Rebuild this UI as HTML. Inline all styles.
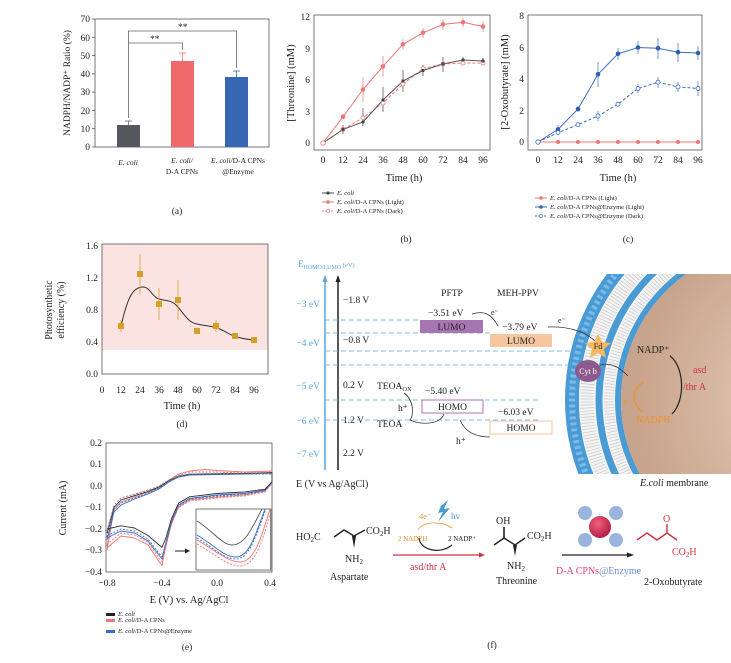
<!DOCTYPE html>
<html><head><meta charset="utf-8"><style>
html,body{margin:0;padding:0;background:#fff}
svg{display:block}
text{font-family:"Liberation Serif",serif;fill:#222}
.t{font-size:9.5px}
.s{font-size:6px;font-style:italic}
</style></head><body>
<svg width="731" height="663" viewBox="0 0 731 663" xmlns="http://www.w3.org/2000/svg">
<!-- Panel a -->
<g>
<rect x="95" y="19" width="174" height="128" fill="none" stroke="#555" stroke-width="0.8"/>
<g stroke="#555" stroke-width="0.8">
<line x1="92" y1="147" x2="95" y2="147"/><line x1="92" y1="128.7" x2="95" y2="128.7"/><line x1="92" y1="110.4" x2="95" y2="110.4"/><line x1="92" y1="92.1" x2="95" y2="92.1"/><line x1="92" y1="73.9" x2="95" y2="73.9"/><line x1="92" y1="55.6" x2="95" y2="55.6"/><line x1="92" y1="37.3" x2="95" y2="37.3"/><line x1="92" y1="19" x2="95" y2="19"/>
</g>
<g class="t" text-anchor="end">
<text x="90" y="150">0</text><text x="90" y="132">10</text><text x="90" y="114">20</text><text x="90" y="95">30</text><text x="90" y="77">40</text><text x="90" y="59">50</text><text x="90" y="41">60</text><text x="90" y="22">70</text>
</g>
<text class="t" transform="translate(70,83) rotate(-90)" text-anchor="middle" font-size="10">NADPH/NADP⁺ Ratio (%)</text>
<rect x="117" y="125" width="23" height="22" fill="#55575e"/>
<rect x="171" y="61" width="23" height="86" fill="#ef6b6b"/>
<rect x="225" y="77" width="23" height="70" fill="#3667b5"/>
<g stroke="#666" stroke-width="0.8"><line x1="128.5" y1="125" x2="128.5" y2="121"/><line x1="125" y1="121" x2="132" y2="121"/></g>
<g stroke="#ef6b6b" stroke-width="0.8"><line x1="182.5" y1="61" x2="182.5" y2="53"/><line x1="179" y1="53" x2="186" y2="53"/></g>
<g stroke="#3667b5" stroke-width="0.8"><line x1="236.5" y1="77" x2="236.5" y2="71"/><line x1="233" y1="71" x2="240" y2="71"/></g>
<g stroke="#666" stroke-width="0.8" fill="none">
<polyline points="128.5,118 128.5,43 182.5,43 182.5,50"/>
<polyline points="128.5,43 128.5,31 236.5,31 236.5,68"/>
</g>
<text class="t" x="150" y="42" font-size="9">**</text>
<text class="t" x="178" y="30" font-size="9">**</text>
<g font-size="7.5" text-anchor="middle">
<text x="128" y="165" font-style="italic">E. coli</text>
<text x="182" y="163" font-style="italic">E. coli/</text><text x="182" y="174">D-A CPNs</text>
<text x="238" y="163"><tspan font-style="italic">E. coli</tspan>/D-A CPNs</text><text x="238" y="174">@Enzyme</text>
</g>
<text class="t" x="177" y="214" text-anchor="middle">(a)</text>
</g>

<!-- Panel b -->
<g>
<rect x="314" y="15" width="176" height="135" fill="none" stroke="#555" stroke-width="0.8"/>
<g class="t" text-anchor="end"><text x="310" y="146">0</text><text x="310" y="115">3</text><text x="310" y="83">6</text><text x="310" y="52">9</text><text x="310" y="20">12</text></g>
<g class="t" text-anchor="middle"><text x="323" y="163">0</text><text x="343" y="163">12</text><text x="363" y="163">24</text><text x="383" y="163">36</text><text x="403" y="163">48</text><text x="423" y="163">60</text><text x="443" y="163">72</text><text x="463" y="163">84</text><text x="483" y="163">96</text></g>
<text x="404" y="181" text-anchor="middle" font-size="10.5">Time (h)</text>
<text transform="translate(294,83) rotate(-90)" text-anchor="middle" font-size="10.5">[Threonine] (mM)</text>
<polyline fill="none" stroke="#f07575" stroke-width="1" points="323,143 343,116.8 363,89.5 383,66.4 403,44.3 423,32.8 443,24.4 463,22.3 483,26.5"/>
<polyline fill="none" stroke="#f07575" stroke-width="1" stroke-dasharray="3,2" points="323,143 343,129.4 363,117.8 383,103 403,84 423,68.5 443,64 463,63 483,63"/>
<polyline fill="none" stroke="#555" stroke-width="1" points="323,143 343,129.4 363,122 383,100 403,81 423,70.5 443,64 463,60 483,61"/>
<g stroke="#f07575" stroke-width="0.7"><line x1="343" y1="114" x2="343" y2="119"/><line x1="363" y1="77" x2="363" y2="102"/><line x1="383" y1="56" x2="383" y2="77"/><line x1="403" y1="39" x2="403" y2="50"/><line x1="423" y1="28" x2="423" y2="38"/><line x1="443" y1="19" x2="443" y2="30"/><line x1="463" y1="18" x2="463" y2="27"/><line x1="483" y1="21" x2="483" y2="32"/></g>
<g stroke="#444" stroke-width="0.7"><line x1="343" y1="125" x2="343" y2="134"/><line x1="363" y1="108" x2="363" y2="126"/><line x1="383" y1="87" x2="383" y2="112"/><line x1="403" y1="70" x2="403" y2="92"/><line x1="423" y1="65" x2="423" y2="76"/><line x1="443" y1="57" x2="443" y2="72"/><line x1="463" y1="57" x2="463" y2="63"/><line x1="483" y1="58" x2="483" y2="65"/></g>
<g fill="#f07575"><circle cx="343" cy="116.8" r="2.3"/><circle cx="363" cy="89.5" r="2.3"/><circle cx="383" cy="66.4" r="2.3"/><circle cx="403" cy="44.3" r="2.3"/><circle cx="423" cy="32.8" r="2.3"/><circle cx="443" cy="24.4" r="2.3"/><circle cx="463" cy="22.3" r="2.3"/><circle cx="483" cy="26.5" r="2.3"/></g>
<g fill="#fff" stroke="#f07575" stroke-width="0.8"><circle cx="323" cy="143" r="2.2"/><circle cx="343" cy="129.4" r="2"/><circle cx="363" cy="117.8" r="2"/><circle cx="383" cy="103" r="2"/><circle cx="403" cy="84" r="2"/><circle cx="423" cy="68.5" r="2"/><circle cx="443" cy="64" r="2"/><circle cx="463" cy="63" r="2"/><circle cx="483" cy="63" r="2"/></g>
<g fill="#444"><circle cx="343" cy="129.4" r="1.6"/><circle cx="363" cy="122" r="1.6"/><circle cx="383" cy="100" r="1.6"/><circle cx="403" cy="81" r="1.6"/><circle cx="423" cy="70.5" r="1.6"/><circle cx="443" cy="64" r="1.6"/><circle cx="463" cy="60" r="1.6"/><circle cx="483" cy="61" r="1.6"/></g>
<g font-size="6.5"><line x1="322" y1="193" x2="334" y2="193" stroke="#444"/><circle cx="328" cy="193" r="1.6" fill="#444"/><text x="337" y="195" font-style="italic">E. coli</text>
<line x1="322" y1="202" x2="334" y2="202" stroke="#f07575"/><circle cx="328" cy="202" r="1.8" fill="#f07575"/><text x="337" y="204"><tspan font-style="italic">E. coli</tspan>/D-A CPNs (Light)</text>
<line x1="322" y1="211" x2="334" y2="211" stroke="#f07575" stroke-dasharray="2,1"/><circle cx="328" cy="211" r="1.8" fill="#fff" stroke="#f07575" stroke-width="0.7"/><text x="337" y="213"><tspan font-style="italic">E. coli</tspan>/D-A CPNs (Dark)</text></g>
<text class="t" x="406" y="242" text-anchor="middle">(b)</text>
</g>

<!-- Panel c -->
<g>
<rect x="528" y="15" width="174" height="135" fill="none" stroke="#555" stroke-width="0.8"/>
<g class="t" text-anchor="end"><text x="524" y="145">0</text><text x="524" y="114">2</text><text x="524" y="82">4</text><text x="524" y="51">6</text><text x="524" y="19">8</text></g>
<g class="t" text-anchor="middle"><text x="538" y="163">0</text><text x="558" y="163">12</text><text x="578" y="163">24</text><text x="598" y="163">36</text><text x="618" y="163">48</text><text x="638" y="163">60</text><text x="658" y="163">72</text><text x="678" y="163">84</text><text x="698" y="163">96</text></g>
<text x="618" y="181" text-anchor="middle" font-size="10.5">Time (h)</text>
<text transform="translate(508,82) rotate(-90)" text-anchor="middle" font-size="10.5">[2-Oxobutyrate] (mM)</text>
<line x1="538" y1="142" x2="698" y2="142" stroke="#f07575"/>
<polyline fill="none" stroke="#3a6cc0" stroke-width="1" points="538,142 558,129.4 578,109 598,74.3 618,53.8 638,47.5 658,48.3 678,52.2 698,53"/>
<polyline fill="none" stroke="#3a6cc0" stroke-width="1" stroke-dasharray="3,2" points="538,142 558,132.6 578,124.7 598,116 618,104.2 638,88.5 658,82.2 678,86.9 698,88.5"/>
<g stroke="#3a6cc0" stroke-width="0.7"><line x1="558" y1="125" x2="558" y2="134"/><line x1="578" y1="106" x2="578" y2="112"/><line x1="598" y1="62" x2="598" y2="87"/><line x1="618" y1="48" x2="618" y2="60"/><line x1="638" y1="41" x2="638" y2="54"/><line x1="658" y1="38" x2="658" y2="59"/><line x1="678" y1="43" x2="678" y2="62"/><line x1="698" y1="46" x2="698" y2="60"/><line x1="598" y1="111" x2="598" y2="121"/><line x1="638" y1="84" x2="638" y2="93"/><line x1="658" y1="77" x2="658" y2="88"/><line x1="678" y1="82" x2="678" y2="92"/><line x1="698" y1="81" x2="698" y2="96"/></g>
<g fill="#f07575"><circle cx="558" cy="142" r="2"/><circle cx="578" cy="142" r="2"/><circle cx="598" cy="142" r="2"/><circle cx="618" cy="142" r="2"/><circle cx="638" cy="142" r="2"/><circle cx="658" cy="142" r="2"/><circle cx="678" cy="142" r="2"/><circle cx="698" cy="142" r="2"/></g>
<g fill="#2f5fb0"><circle cx="558" cy="129.4" r="2.3"/><circle cx="578" cy="109" r="2.3"/><circle cx="598" cy="74.3" r="2.3"/><circle cx="618" cy="53.8" r="2.3"/><circle cx="638" cy="47.5" r="2.3"/><circle cx="658" cy="48.3" r="2.3"/><circle cx="678" cy="52.2" r="2.3"/><circle cx="698" cy="53" r="2.3"/></g>
<g fill="#fff" stroke="#3a6cc0" stroke-width="0.8"><circle cx="538" cy="142" r="2.2"/><circle cx="558" cy="132.6" r="2"/><circle cx="578" cy="124.7" r="2"/><circle cx="598" cy="116" r="2"/><circle cx="618" cy="104.2" r="2"/><circle cx="638" cy="88.5" r="2"/><circle cx="658" cy="82.2" r="2"/><circle cx="678" cy="86.9" r="2"/><circle cx="698" cy="88.5" r="2"/></g>
<g font-size="6.5"><line x1="535" y1="198" x2="547" y2="198" stroke="#f07575"/><circle cx="541" cy="198" r="1.8" fill="#f07575"/><text x="550" y="200"><tspan font-style="italic">E. coli</tspan>/D-A CPNs (Light)</text>
<line x1="535" y1="207" x2="547" y2="207" stroke="#3a6cc0"/><circle cx="541" cy="207" r="1.8" fill="#2f5fb0"/><text x="550" y="209"><tspan font-style="italic">E. coli</tspan>/D-A CPNs@Enzyme (Light)</text>
<line x1="535" y1="216" x2="547" y2="216" stroke="#3a6cc0" stroke-dasharray="2,1"/><circle cx="541" cy="216" r="1.8" fill="#fff" stroke="#3a6cc0" stroke-width="0.7"/><text x="550" y="218"><tspan font-style="italic">E. coli</tspan>/D-A CPNs@Enzyme (Dark)</text></g>
<text class="t" x="628" y="242" text-anchor="middle">(c)</text>
</g>

<!-- Panel d -->
<g>
<rect x="102" y="244" width="166" height="106" fill="#fbe3e1"/>
<rect x="102" y="244" width="166" height="130" fill="none" stroke="#555" stroke-width="0.8"/>
<g class="t" text-anchor="end"><text x="98" y="377">0.0</text><text x="98" y="345">0.4</text><text x="98" y="313">0.8</text><text x="98" y="281">1.2</text><text x="98" y="249">1.6</text></g>
<g class="t" text-anchor="middle"><text x="102" y="393">0</text><text x="121" y="393">12</text><text x="140" y="393">24</text><text x="159" y="393">36</text><text x="178" y="393">48</text><text x="197" y="393">60</text><text x="216" y="393">72</text><text x="235" y="393">84</text><text x="254" y="393">96</text></g>
<text x="182" y="409" text-anchor="middle" font-size="10.5">Time (h)</text>
<text transform="translate(52,310) rotate(-90)" text-anchor="middle" font-size="10">Photosynthetic</text>
<text transform="translate(64,310) rotate(-90)" text-anchor="middle" font-size="10">efficiency (%)</text>
<path d="M121,326 C127,300 132,287 143,287 C150,287 152,297 159,299 C166,301 171,300 176,305 C183,312 188,323 197,324 C206,326 210,326 216,327.6 C224,330 228,334 235,336.4 C243,339 248,339.5 254,340" fill="none" stroke="#333" stroke-width="1"/>
<g stroke="#d8a030" stroke-width="0.8"><line x1="121" y1="320" x2="121" y2="332"/><line x1="140" y1="254" x2="140" y2="294"/><line x1="159" y1="288" x2="159" y2="320"/><line x1="178" y1="280" x2="178" y2="320"/><line x1="216" y1="320" x2="216" y2="332"/><line x1="197" y1="328" x2="197" y2="334"/></g>
<g fill="#d4a02a"><rect x="118" y="323" width="6" height="6"/><rect x="137" y="271" width="6" height="6"/><rect x="156" y="301" width="6" height="6"/><rect x="175" y="297" width="6" height="6"/><rect x="194" y="328" width="6" height="6"/><rect x="213" y="323" width="6" height="6"/><rect x="232" y="333" width="6" height="6"/><rect x="251" y="337" width="6" height="6"/></g>
<text class="t" x="182" y="427" text-anchor="middle">(d)</text>
</g>

<!-- Panel e -->
<g>
<rect x="106" y="443" width="166" height="129" fill="none" stroke="#555" stroke-width="0.8"/>
<g class="t" text-anchor="end"><text x="102" y="446">0.2</text><text x="102" y="467">0.1</text><text x="102" y="489">0.0</text><text x="102" y="510">−0.1</text><text x="102" y="532">−0.2</text><text x="102" y="553">−0.3</text><text x="102" y="575">−0.4</text></g>
<g class="t" text-anchor="middle"><text x="107" y="586">−0.8</text><text x="162" y="586">−0.4</text><text x="217" y="586">0.0</text><text x="270" y="586">0.4</text></g>
<text x="189" y="603" text-anchor="middle" font-size="10.5">E (V) vs. Ag/AgCl</text>
<text transform="translate(66,508) rotate(-90)" text-anchor="middle" font-size="10">Current (mA)</text>
<g fill="none" stroke-width="0.9" stroke-linejoin="round">
<polyline stroke="#f07575" points="107,550 114,510 121,502 134.5,497 148,492.5 159,488 169,480 178.5,474 189.5,471 205,469.5 217,470.5 244.5,472 272,471 272,482 265,491 244.5,495 217,497 189.5,500 178.5,507 171.6,523 166,546 162,565.5 158,560 148,545 134.5,538 121,536 107,548"/>
<polyline stroke="#f07575" stroke-dasharray="2,1.5" points="107,546 114,507 121,500 134.5,495 148,491 159,487 169,480 178.5,475 189.5,472 217,472 244.5,473 272,472 272,483 265,492 244.5,496 217,498 189.5,501 178.5,508 171.6,524 166,545 162,562 158,557 148,542 134.5,535 121,533 107,544"/>
<polyline stroke="#3a6cc0" points="107,540 114,512 121,505 134.5,499 148,494 159,489 169,482 178.5,477 189.5,475 217,474.5 244.5,474 272,473 272,482 265,490 244.5,493.5 217,495 189.5,498.5 178.5,505 171.6,521 166,542 162,559 158,554 148,541 134.5,533 121,531 107,538"/>
<polyline stroke="#3a6cc0" stroke-dasharray="2,1.5" points="107,537 114,509 121,503 134.5,498 148,493 159,488 169,481 178.5,476 189.5,474 217,474 244.5,474 272,474 272,483 265,491 244.5,494 217,496 189.5,499 178.5,506 171.6,522 166,543 162,557 158,552 148,539 134.5,531 121,529 107,536"/>
<polyline stroke="#333" points="107,533 114,507.5 121,500 134.5,495.7 148,491.4 159,487 169,480.6 178.5,476.3 189.5,474.2 217,473.7 244.5,473.5 272,472.5 272,481.7 265,489.2 244.5,492 217,493.5 189.5,496.8 178.5,503.2 171.6,518.3 166,537.6 162,547.3 158,544 148,535.5 134.5,528 121,525.8 107,529"/>
<polyline stroke="#888" stroke-dasharray="2,1.5" points="107,531 114,505 121,498 134.5,494 148,490 159,486 169,480 178.5,476 189.5,474 217,473.5 244.5,473 272,473"/>
</g>
<rect x="196" y="509" width="75" height="61" fill="#fff" stroke="#555" stroke-width="0.8"/>
<rect x="270" y="509" width="2" height="61" fill="#888"/>
<g fill="none" stroke-width="0.9">
<path d="M197,521 C212,530 222,545 232,545 C245,545 252,528 262,509" stroke="#555"/>
<path d="M197,535 C214,545 224,557 236,557 C250,557 257,530 265,509" stroke="#3a6cc0"/>
<path d="M197,538 C214,548 224,559 236,559 C250,559 257,532 266,509" stroke="#3a6cc0" stroke-dasharray="2,1.5"/>
<path d="M197,540 C216,551 228,562 240,562 C255,562 262,535 270,509" stroke="#f07575"/>
<path d="M197,544 C216,555 228,566 240,566 C256,566 263,538 270,515" stroke="#f07575" stroke-dasharray="2,1.5"/>
</g>
<line x1="175" y1="551" x2="187" y2="551" stroke="#222" stroke-width="1"/><polygon points="190,551 185,548.5 185,553.5" fill="#222"/>
<g font-size="6.5"><rect x="106" y="613" width="9" height="3" fill="#222"/><text x="118" y="616" font-style="italic">E. coli</text>
<rect x="106" y="619" width="9" height="3" fill="#f07575"/><text x="118" y="622"><tspan font-style="italic">E. coli</tspan>/D-A CPNs</text>
<rect x="106" y="630" width="9" height="3" fill="#3a6cc0"/><text x="118" y="633"><tspan font-style="italic">E. coli</tspan>/D-A CPNs@Enzyme</text></g>
<text class="t" x="187" y="650" text-anchor="middle">(e)</text>
</g>

<!-- Panel f: energy diagram -->
<defs>
<radialGradient id="cell" cx="0.65" cy="0.5" r="0.6"><stop offset="0" stop-color="#e8d2c0"/><stop offset="1" stop-color="#c9a48c"/></radialGradient>
<clipPath id="clp"><rect x="540" y="274" width="191" height="200"/></clipPath>
<radialGradient id="np" cx="0.4" cy="0.35" r="0.7"><stop offset="0" stop-color="#f06080"/><stop offset="1" stop-color="#b01840"/></radialGradient>
</defs>
<g clip-path="url(#clp)">
<circle cx="775" cy="400" r="203" fill="none" stroke="#4a9ad4" stroke-width="14"/>
<circle cx="775" cy="400" r="203" fill="none" stroke="#7bbbe8" stroke-width="6" stroke-dasharray="3,3"/>
<circle cx="775" cy="400" r="188" fill="none" stroke="#f4f4f4" stroke-width="16"/>
<circle cx="775" cy="400" r="188" fill="none" stroke="#c8c8c8" stroke-width="14" stroke-dasharray="0.7,2.3"/>
<circle cx="775" cy="400" r="176" fill="none" stroke="#4a9ad4" stroke-width="7"/>
<circle cx="775" cy="400" r="166" fill="none" stroke="#f4f4f4" stroke-width="12"/>
<circle cx="775" cy="400" r="166" fill="none" stroke="#c8c8c8" stroke-width="10" stroke-dasharray="0.7,2.3"/>
<circle cx="775" cy="400" r="157" fill="none" stroke="#4a9ad4" stroke-width="6"/>
<circle cx="775" cy="400" r="154" fill="url(#cell)"/>
</g>
<line x1="325" y1="470" x2="325" y2="280" stroke="#5aa6de" stroke-width="1.5"/><polygon points="325,275 322.5,282 327.5,282" fill="#5aa6de"/>
<line x1="338" y1="470" x2="338" y2="280" stroke="#222" stroke-width="1.5"/><polygon points="338,275 335.5,282 340.5,282" fill="#222"/>
<text x="298" y="267" font-size="9" style="fill:#5aa6de">E<tspan font-size="6" dy="2">HOMO/LUMO</tspan><tspan font-size="6.5" dy="-2"> (eV)</tspan></text>
<g font-size="9.5" style="fill:#5aa6de" text-anchor="end"><text x="320" y="307" style="fill:#5aa6de">−3 eV</text><text x="320" y="346" style="fill:#5aa6de">−4 eV</text><text x="320" y="389" style="fill:#5aa6de">−5 eV</text><text x="320" y="424" style="fill:#5aa6de">−6 eV</text><text x="320" y="457" style="fill:#5aa6de">−7 eV</text></g>
<g font-size="9.5"><text x="343" y="303">−1.8 V</text><text x="343" y="343">−0.8 V</text><text x="343" y="388">0.2 V</text><text x="343" y="423">1.2 V</text><text x="343" y="456">2.2 V</text></g>
<g stroke="#5aa6de" stroke-width="0.8" stroke-dasharray="5,3"><line x1="325" y1="320" x2="420" y2="320"/><line x1="325" y1="333" x2="490" y2="333"/><line x1="325" y1="351" x2="575" y2="351"/><line x1="325" y1="365" x2="590" y2="365"/><line x1="325" y1="400" x2="540" y2="400"/><line x1="325" y1="420" x2="540" y2="420"/></g>
<text x="452" y="296" font-size="9.5" text-anchor="middle">PFTP</text>
<text x="518" y="296" font-size="9.5" text-anchor="middle">MEH-PPV</text>
<text x="428" y="316" font-size="9.5">−3.51 eV</text>
<text x="491" y="315" font-size="8">e⁻</text>
<rect x="420" y="320" width="63" height="13" fill="#a675b2"/><text x="451.5" y="330" font-size="9.5" text-anchor="middle">LUMO</text>
<text x="502" y="330" font-size="9.5">−3.79 eV</text>
<rect x="490" y="334" width="62" height="13" fill="#f6c6a0"/><text x="521" y="344" font-size="9.5" text-anchor="middle">LUMO</text>
<text x="558" y="323" font-size="8">e⁻</text>
<path d="M472,314 C485,310 492,315 498,326" fill="none" stroke="#333" stroke-width="0.8"/>
<path d="M548,327 C570,326 590,333 598,345" fill="none" stroke="#333" stroke-width="0.8"/>
<text x="425" y="394" font-size="9.5">−5.40 eV</text>
<rect x="422" y="400" width="61" height="13" fill="#fff" stroke="#a675b2"/><text x="452.5" y="410" font-size="9.5" text-anchor="middle">HOMO</text>
<text x="498" y="415" font-size="9.5">−6.03 eV</text>
<rect x="490" y="421" width="62" height="13" fill="#fff" stroke="#f6c6a0"/><text x="521" y="431" font-size="9.5" text-anchor="middle">HOMO</text>
<text x="377" y="389" font-size="9.5">TEOA<tspan font-size="6.5" dy="2">OX</tspan></text>
<text x="398" y="411" font-size="9.5">h⁺</text>
<text x="377" y="427" font-size="9.5">TEOA</text>
<text x="456" y="444" font-size="9.5">h⁺</text>
<path d="M404,393 C414,400 414,415 410,420 C420,425 440,425 444,414" fill="none" stroke="#333" stroke-width="0.8"/>
<path d="M490,437 C475,437 465,432 460,420" fill="none" stroke="#333" stroke-width="0.8"/>
<text x="296" y="487" font-size="10">E (V vs Ag/AgCl)</text>
<polygon points="598,334 602,342 611,343 604,349 606,358 598,353 590,358 592,349 585,343 594,342" fill="#f4b860"/>
<text x="598" y="349" font-size="8" text-anchor="middle">Fd</text>
<ellipse cx="588" cy="371" rx="13" ry="11" fill="#8e5a8e"/>
<text x="588" y="374" font-size="8" text-anchor="middle" style="fill:#fff">Cyt b</text>
<path d="M600,365 C612,362 620,368 628,376" fill="none" stroke="#333" stroke-width="0.8"/>
<text x="637" y="353" font-size="10">NADP⁺</text>
<text x="636" y="423" font-size="10" style="fill:#f09030">NADPH</text>
<text x="624" y="404" font-size="8" style="fill:#f09030">e⁻</text>
<text x="693" y="373" font-size="10" style="fill:#d03040">asd</text>
<text x="683" y="390" font-size="10" style="fill:#d03040">/thr A</text>
<path d="M644,382 C630,390 632,405 643,412" fill="none" stroke="#f09030" stroke-width="1.2"/>
<path d="M670,356 C684,366 686,400 672,414" fill="none" stroke="#222" stroke-width="1.2"/>
<text x="640" y="486" font-size="10"><tspan font-style="italic">E.coli</tspan> membrane</text>

<!-- bottom reaction -->
<g font-size="10">
<text x="296" y="540">HO<tspan font-size="7" dy="2">2</tspan><tspan dy="-2">C</tspan></text>
<polyline points="334,537 344,530 354,536 365,530" fill="none" stroke="#222" stroke-width="1.4"/>
<polygon points="352,536 356,536 354,548" fill="#222"/>
<text x="366" y="534">CO<tspan font-size="7" dy="2">2</tspan><tspan dy="-2">H</tspan></text>
<text x="345" y="562">NH<tspan font-size="7" dy="2">2</tspan></text>
<text x="330" y="580">Aspartate</text>
<line x1="393" y1="555" x2="480" y2="555" stroke="#d03040" stroke-width="1.2"/><polygon points="485,555 479,552.5 479,557.5" fill="#d03040"/>
<text x="410" y="570" style="fill:#d03040">asd/thr A</text>
<text x="398" y="541" font-size="7" style="fill:#f09030">2 NADPH</text>
<text x="448" y="541" font-size="7">2 NADP⁺</text>
<path d="M419,538 C420,550 440,555 452,545" fill="none" stroke="#222" stroke-width="1.2"/>
<path d="M418,530 C422,522 440,520 452,528" fill="none" stroke="#f09030" stroke-width="0.8"/>
<text x="419" y="519" font-size="8.5" style="fill:#f09030">4e⁻</text>
<polygon points="441,506 448,500 444,509 450,508 438,522 443,512 438,513" fill="#4a9ad4"/>
<text x="451" y="519" font-size="9" style="fill:#4a9ad4">hv</text>
<text x="496" y="524">OH</text>
<polyline points="494,545 504,538 515,545 525,538" fill="none" stroke="#222" stroke-width="1.4"/>
<line x1="504" y1="538" x2="504" y2="527" stroke="#222" stroke-width="1.6"/>
<polygon points="513,545 517,545 515,556" fill="#222"/>
<text x="527" y="539">CO<tspan font-size="7" dy="2">2</tspan><tspan dy="-2">H</tspan></text>
<text x="507" y="569">NH<tspan font-size="7" dy="2">2</tspan></text>
<text x="496" y="584">Threonine</text>
<line x1="562" y1="555" x2="628" y2="555" stroke="#222" stroke-width="1.2"/><polygon points="634,555 627,552.5 627,557.5" fill="#222"/>
<g fill="#8aa8d8" opacity="0.85"><circle cx="585" cy="513" r="7"/><circle cx="616" cy="513" r="7"/><circle cx="585" cy="540" r="7"/><circle cx="616" cy="540" r="7"/></g>
<circle cx="600" cy="527" r="11" fill="url(#np)"/>
<text x="556" y="574" font-size="10" style="fill:#e0407a">D-A CPNs<tspan style="fill:#6a90d8">@Enzyme</tspan></text>
<polyline points="637,540 647,533 657,540 667,533 677,540" fill="none" stroke="#d03040" stroke-width="1.4"/>
<line x1="667" y1="533" x2="667" y2="524" stroke="#d03040" stroke-width="1.4"/>
<text x="663" y="522" style="fill:#d03040">O</text>
<text x="672" y="555" style="fill:#d03040">CO<tspan font-size="7" dy="2">2</tspan><tspan dy="-2">H</tspan></text>
<text x="644" y="585">2-Oxobutyrate</text>
</g>
<text class="t" x="492" y="648" text-anchor="middle">(f)</text>
</svg>
</body></html>
